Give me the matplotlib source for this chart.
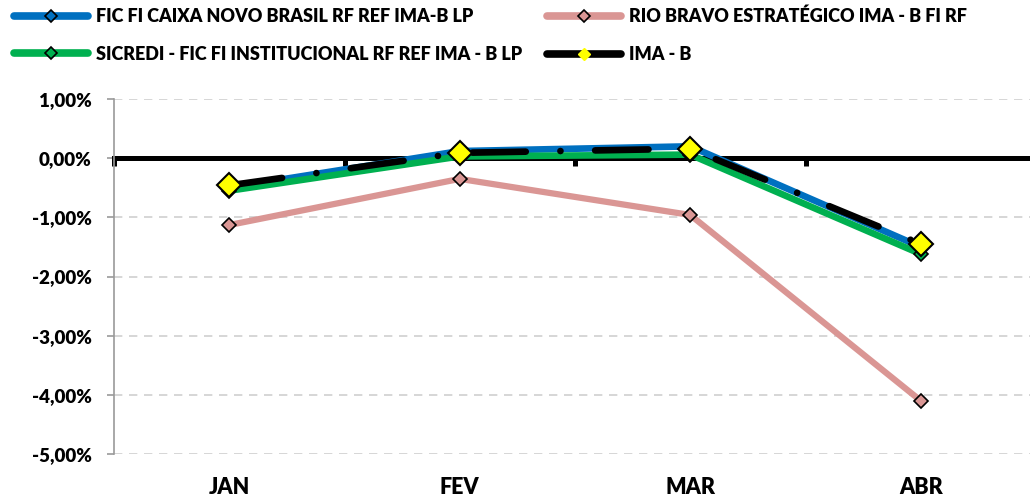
import matplotlib
matplotlib.use("Agg")
import matplotlib.pyplot as plt
from matplotlib.lines import Line2D
from matplotlib.ticker import FuncFormatter
import matplotlib.transforms as mtransforms

plt.rcParams['font.family'] = ['Lato', 'DejaVu Sans']
plt.rcParams['font.weight'] = 'heavy'

months = ["JAN", "FEV", "MAR", "ABR"]
caixa = [-0.50, 0.12, 0.20, -1.50]
rio_bravo = [-1.13, -0.35, -0.96, -4.10]
sicredi = [-0.55, 0.03, 0.06, -1.62]
ima_b = [-0.46, 0.09, 0.16, -1.45]

names = ["FIC FI CAIXA NOVO BRASIL RF REF IMA-B LP",
         "RIO BRAVO ESTRATÉGICO IMA - B FI RF",
         "SICREDI - FIC FI INSTITUCIONAL RF REF IMA - B LP",
         "IMA - B"]

W = 'heavy'
fig = plt.figure(figsize=(10.3, 5.0), dpi=100)
ax = fig.add_axes([114/1030, 1-454/500, (1036-114)/1030, (454-99)/500])
x = list(range(len(months)))

ax.set_xlim(-0.5, 3.5)
ax.set_ylim(-5, 1)
ax.set_yticks([1, 0, -1, -2, -3, -4, -5])
ax.yaxis.set_major_formatter(FuncFormatter(lambda v, p: ("%.2f%%" % v).replace(".", ",")))
ax.grid(axis='y', color='#d0d0d0', linestyle=(0, (5, 4)), linewidth=1.2)
ax.set_axisbelow(True)
for s in ['top', 'right']:
    ax.spines[s].set_visible(False)
ax.spines['left'].set_color('#9a9a9a')
ax.spines['left'].set_linewidth(1.2)
ax.spines['bottom'].set_position(('data', 0))
ax.spines['bottom'].set_linewidth(3.6)
ax.spines['bottom'].set_color('black')
ax.spines['bottom'].set_zorder(2)
ax.tick_params(axis='y', colors='#9a9a9a', length=5, width=1.2, pad=11, labelsize=13.5,
               labelcolor='black')
ax.set_xticks([-0.5, 0.5, 1.5, 2.5])
ax.set_xticklabels([])
ax.tick_params(axis='x', direction='out', length=6, width=3.6, color='black')
for lab in ax.get_yticklabels():
    lab.set_fontweight(W)

trans = mtransforms.blended_transform_factory(ax.transData, ax.transAxes)
for i, m in enumerate(months):
    ax.text(i, -0.095, m, transform=trans, ha='center', va='center',
            fontsize=15.5, fontweight=W)

ms = 7.5
l1, = ax.plot(x, caixa, color='#0070C0', lw=4.8, marker='D', ms=ms,
              mfc='#0070C0', mec='black', mew=1.2, zorder=3, solid_capstyle='round')
l3, = ax.plot(x, sicredi, color='#00B050', lw=4.8, marker='D', ms=ms,
              mfc='#00B050', mec='black', mew=1.2, zorder=4, solid_capstyle='round')
l2, = ax.plot(x, rio_bravo, color='#DA9694', lw=4.5, marker='D', ms=ms,
              mfc='#DA9694', mec='black', mew=1.2, zorder=4, solid_capstyle='round')
l4, = ax.plot(x, ima_b, color='black', lw=4.8, zorder=5, dash_capstyle='round')
l4.set_dashes((8.0, 5.2, 0.01, 5.2))
ax.plot(x, ima_b, linestyle='none', marker='D', ms=12.5, mfc='#FFFF00', mec='black',
        mew=1.5, zorder=6)

def handle(color, mfc, ms_=6):
    return Line2D([0], [0], color=color, lw=5.5, marker='D', ms=ms_, mfc=mfc,
                  mec='black', mew=1.2, solid_capstyle='round')

h1 = handle('#0070C0', '#0070C0')
h2 = handle('#DA9694', '#DA9694')
h3 = handle('#00B050', '#00B050')
h4 = Line2D([0], [0], color='black', lw=5.5, marker='D', ms=6, mfc='#FFFF00',
            mec='#FFFF00', mew=1, solid_capstyle='round')

legkw = dict(frameon=False, handlelength=4.1, handletextpad=0.45,
             labelspacing=1.15, borderaxespad=0, borderpad=0,
             prop={'weight': W, 'size': 13})
leg1 = fig.legend([h1, h3], [names[0], names[2]], loc='upper left',
                  bbox_to_anchor=(14/1030, 1-8/500), **legkw)
leg2 = fig.legend([h2, h4], [names[1], names[3]], loc='upper left',
                  bbox_to_anchor=(547/1030, 1-8/500), **legkw)

fig.savefig("out.png", dpi=100)
